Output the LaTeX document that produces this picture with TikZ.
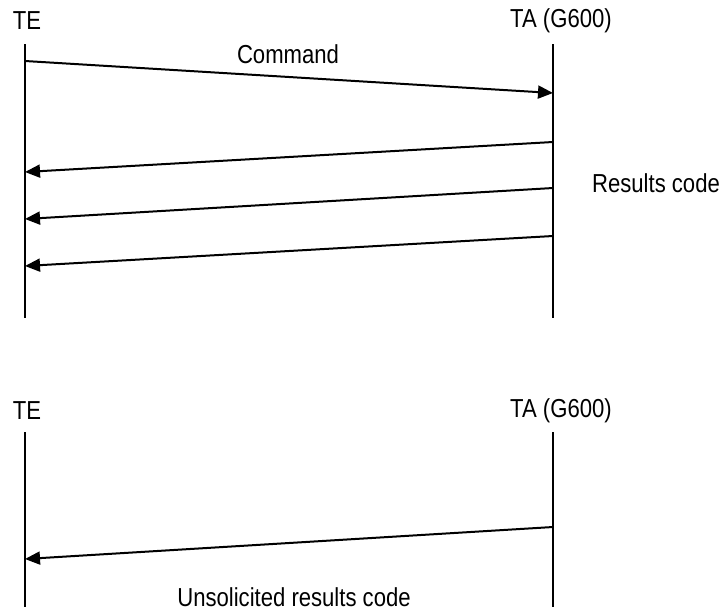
\documentclass[tikz,border=0pt]{standalone}
\usepackage{fontspec}
\setmainfont[FakeStretch=0.85]{Liberation Sans}
\usetikzlibrary{arrows.meta}
\begin{document}
\begin{tikzpicture}[x=1pt,y=-1pt,
  lifeline/.style={line width=1.8pt},
  msg/.style={line width=2pt,-{Triangle[length=15pt,width=13pt]}},
  lbl/.style={font=\fontsize{26}{30}\selectfont,inner sep=0pt}]
\useasboundingbox (0,0) rectangle (722,614);

% upper sequence: command and result codes
\node[lbl] (te1) at (27,21) {TE};
\node[lbl] (ta1) at (561,21) {TA (G600)};
\coordinate (l1t) at (25,44);  \coordinate (l1b) at (25,318);
\coordinate (r1t) at (553,44); \coordinate (r1b) at (553,318);
\draw[lifeline] (l1t) -- (l1b);
\draw[lifeline] (r1t) -- (r1b);

\coordinate (c0) at (25,61);   \coordinate (c1) at (553,93);
\draw[msg] (c0) -- (c1);
\node[lbl] (cmd) at (288,54) {Command};

\coordinate (a0) at (553,142); \coordinate (a1) at (25,172);
\coordinate (b0) at (553,188); \coordinate (b1) at (25,219);
\coordinate (d0) at (553,236); \coordinate (d1) at (25,266);
\draw[msg] (a0) -- (a1);
\draw[msg] (b0) -- (b1);
\draw[msg] (d0) -- (d1);
\node[lbl] (res) at (656,183) {Results code};

% lower sequence: unsolicited result code
\node[lbl] (te2) at (27,411) {TE};
\node[lbl] (ta2) at (561,411) {TA (G600)};
\coordinate (l2t) at (25,432);  \coordinate (l2b) at (25,607);
\coordinate (r2t) at (553,432); \coordinate (r2b) at (553,607);
\draw[lifeline] (l2t) -- (l2b);
\draw[lifeline] (r2t) -- (r2b);

\coordinate (u0) at (553,527); \coordinate (u1) at (25,559);
\draw[msg] (u0) -- (u1);
\node[lbl] (uns) at (294,597) {Unsolicited results code};
\end{tikzpicture}
\end{document}
